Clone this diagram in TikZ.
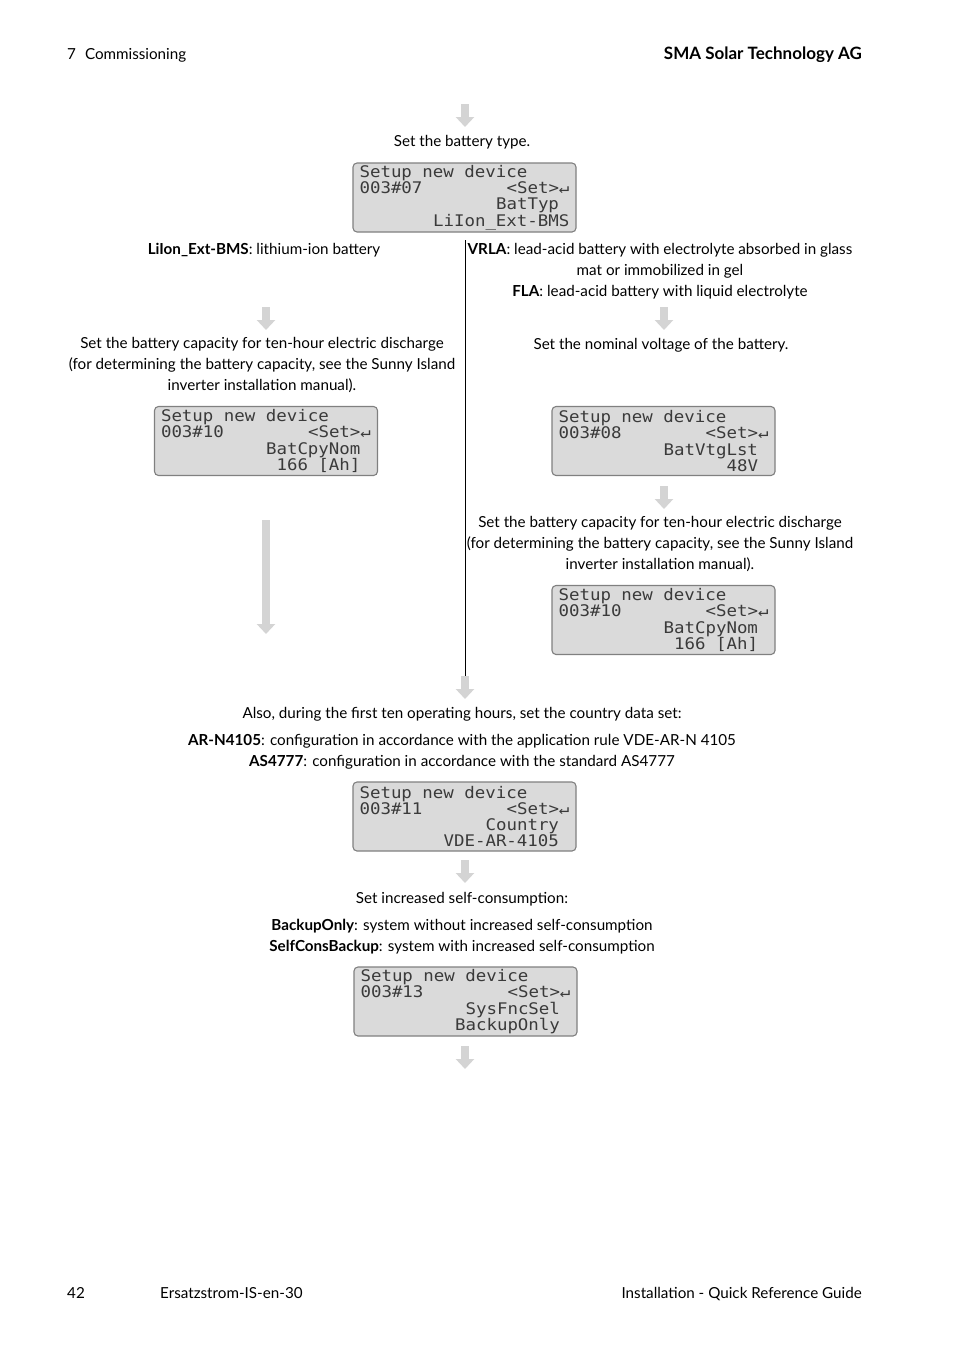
\documentclass[tikz,border=0pt]{standalone}
\usepackage{fontspec}
\setmainfont{Lato}
\newfontfamily\lcdfont[FakeStretch=1.09]{DejaVu Sans Mono}
\usetikzlibrary{arrows.meta,positioning}

\definecolor{lcdfill}{RGB}{218,218,218}
\definecolor{lcdframe}{RGB}{128,128,128}
\definecolor{lcdtext}{RGB}{58,58,58}
\definecolor{flowgray}{RGB}{212,212,212}
\newcommand{\lsp}{\hphantom{0}}

\begin{document}
\begin{tikzpicture}[
  x=1pt, y=-1pt,
  font=\fontsize{15.2}{21}\selectfont,
  txt/.style={anchor=base, align=center, inner sep=0pt},
  lcd/.style={draw=lcdframe, fill=lcdfill, rounded corners=4pt,
              line width=1.1pt, minimum width=223pt, minimum height=69pt,
              text width=210pt, align=left, inner sep=0pt, text=lcdtext,
              font=\lcdfont\fontsize{16}{16.3}\selectfont},
  flow/.style={flowgray, line width=8.5pt,
               -{Triangle[width=18pt,length=10pt]}},
]
\useasboundingbox (0,0) rectangle (954,1350);

% ---------------- header and footer -------------------------------------
\node[anchor=base west, inner sep=0pt] (chap) at (67,59)
  {7\hspace{9pt}Commissioning};
\node[anchor=base east, inner sep=0pt, font=\fontsize{17}{21}\selectfont]
  (firm) at (862,59) {\textbf{SMA Solar Technology AG}};
\node[anchor=base west, inner sep=0pt] (page) at (67,1298) {42};
\node[anchor=base west, inner sep=0pt] (code) at (160,1298)
  {Ersatzstrom-IS-en-30};
\node[anchor=base east, inner sep=0pt] (guide) at (862,1298)
  {Installation - Quick Reference Guide};

% ---------------- battery type ------------------------------------------
\node[txt] (settype) at (462,146) {Set the battery type.};
\node[lcd] (lcdtype) at (464.5,197.5)
  {Setup\lsp new\lsp device\\003\#07\hfill<Set>↵\\
   \hfill BatTyp\lsp\\\hfill LiIon\_Ext-BMS};

% multi-line texts: base anchor = last line
\node[txt] (liion) at (264,254)
  {\textbf{LiIon\_Ext-BMS}: lithium-ion battery};
\node[txt] (vrla) at (660,296)
  {\textbf{VRLA}: lead-acid battery with electrolyte absorbed in glass\\
   mat or immobilized in gel\\
   \textbf{FLA}: lead-acid battery with liquid electrolyte};

% ---------------- left branch: lithium-ion ------------------------------
\node[txt] (capl) at (262,390)
  {Set the battery capacity for ten-hour electric discharge\\
   (for determining the battery capacity, see the Sunny Island\\
   inverter installation manual).};
\node[lcd] (lcdcapl) at (266,441)
  {Setup\lsp new\lsp device\\003\#10\hfill<Set>↵\\
   \hfill BatCpyNom\lsp\\\hfill 166\lsp[Ah]\lsp};

% ---------------- right branch: lead-acid -------------------------------
\node[txt] (volt) at (661,349) {Set the nominal voltage of the battery.};
\node[lcd] (lcdvolt) at (663.5,441)
  {Setup\lsp new\lsp device\\003\#08\hfill<Set>↵\\
   \hfill BatVtgLst\lsp\\\hfill 48V\lsp};
\node[txt] (capr) at (660,569)
  {Set the battery capacity for ten-hour electric discharge\\
   (for determining the battery capacity, see the Sunny Island\\
   inverter installation manual).};
\node[lcd] (lcdcapr) at (663.5,620)
  {Setup\lsp new\lsp device\\003\#10\hfill<Set>↵\\
   \hfill BatCpyNom\lsp\\\hfill 166\lsp[Ah]\lsp};

% ---------------- country data set --------------------------------------
\node[txt] (country) at (462,718)
  {Also, during the first ten operating hours, set the country data set:};
\node[txt] (cntopt) at (462,766)
  {\textbf{AR-N4105}: configuration in accordance with the application rule VDE-AR-N 4105\\
   \textbf{AS4777}: configuration in accordance with the standard AS4777};
\node[lcd] (lcdcnt) at (464.5,816.5)
  {Setup\lsp new\lsp device\\003\#11\hfill<Set>↵\\
   \hfill Country\lsp\\\hfill VDE-AR-4105\lsp};

% ---------------- self-consumption --------------------------------------
\node[txt] (selfc) at (462,903) {Set increased self-consumption:};
\node[txt] (selfopt) at (462,951)
  {\textbf{BackupOnly}: system without increased self-consumption\\
   \textbf{SelfConsBackup}: system with increased self-consumption};
\node[lcd] (lcdsys) at (465.5,1001.5)
  {Setup\lsp new\lsp device\\003\#13\hfill<Set>↵\\
   \hfill SysFncSel\lsp\\\hfill BackupOnly\lsp};

% ---------------- flow arrows -------------------------------------------
\coordinate (a1) at (465,104);
\coordinate (a2) at (266,307);
\coordinate (a3) at (664,307);
\coordinate (a4) at (664,486);
\coordinate (a5) at (266,520);
\coordinate (a6) at (465,676);
\coordinate (a7) at (465,860);
\coordinate (a8) at (465,1046);
\coordinate (split) at (465,240);

\foreach \a in {a1,a2,a3,a4,a6,a7,a8}
  \draw[flow] (\a) -- ++(0,23);
\draw[flow] (a5) -- ++(0,114);

\draw[black, line width=1pt] (split) -- (a6);

\end{tikzpicture}
\end{document}
